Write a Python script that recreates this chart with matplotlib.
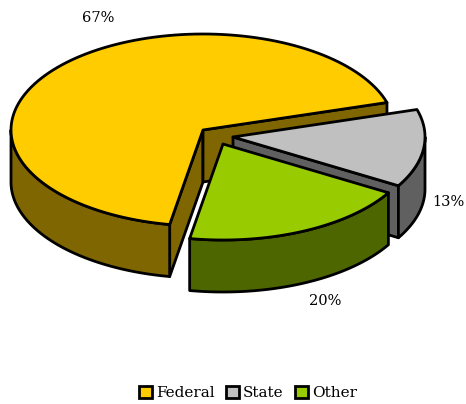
import matplotlib
matplotlib.use('Agg')
import matplotlib.pyplot as plt
from matplotlib.patches import Patch, Polygon
import numpy as np

labels = ['Federal', 'State', 'Other']
pct_labels = ['67%', '13%', '20%']
# share of the ellipse each slice takes up in the picture, in percent
shares = [67.6, 13.1, 19.3]
top_colors = ['#FFCC00', '#C0C0C0', '#99CC00']
side_colors = ['#806600', '#606060', '#4D6600']

# pie centres after the slices are pulled apart, in pixels
centers = [(203, 130), (233, 137), (223, 144)]
label_pos = [(98, 18), (448, 202), (325, 301)]

RX, RY, DEPTH = 192, 96, 52
START = 260
LW = 2.0
SERIF = ['DejaVu Serif']

fig = plt.figure(figsize=(4.66, 4.04), dpi=100)
ax = fig.add_axes([0, 0, 1, 1])
ax.set_xlim(0, 466)
ax.set_ylim(404, 0)
ax.axis('off')


def rim(cx, cy, a1, a2, dy=0):
    # points on the ellipse, angles in degrees counter clockwise
    t = np.radians(np.linspace(a1, a2, 120))
    return np.column_stack([cx + RX * np.cos(t), cy - RY * np.sin(t) + dy])


def add_poly(pts, color, z):
    ax.add_patch(Polygon(pts, closed=True, facecolor=color, edgecolor='black',
                         linewidth=LW, joinstyle='round', zorder=z))


def add_cut(cx, cy, a, color, z):
    t = np.radians(a)
    x, y = cx + RX * np.cos(t), cy - RY * np.sin(t)
    add_poly([(cx, cy), (x, y), (x, y + DEPTH), (cx, cy + DEPTH)], color, z)


angle = START
for i, share in enumerate(shares):
    a1 = angle
    a2 = angle - share * 3.6
    angle = a2
    cx, cy = centers[i]
    z = i * 3 + 1

    # cut faces, only those turned towards the viewer
    if np.cos(np.radians(a1)) < 0:
        add_cut(cx, cy, a1, side_colors[i], z)
    if np.cos(np.radians(a2)) > 0:
        add_cut(cx, cy, a2, side_colors[i], z)

    # outer wall, only the front half of the ellipse shows
    for k in (-360, 0):
        f1 = max(a2, 180 + k)
        f2 = min(a1, 360 + k)
        if f1 < f2:
            add_poly(np.vstack([rim(cx, cy, f1, f2), rim(cx, cy, f2, f1, DEPTH)]),
                     side_colors[i], z + 1)

    add_poly(np.vstack([[(cx, cy)], rim(cx, cy, a1, a2)]), top_colors[i], z + 2)

    x, y = label_pos[i]
    ax.text(x, y, pct_labels[i], ha='center', va='center', fontsize=10.5,
            family=SERIF, color='black', zorder=20)

handles = [Patch(facecolor=c, edgecolor='black', linewidth=2.0) for c in top_colors]
ax.legend(handles, labels, loc='center', bbox_to_anchor=(248 / 466, 1 - 393 / 404), ncol=3,
          frameon=False, prop={'family': SERIF, 'size': 11}, handlelength=0.85,
          handleheight=0.85, handletextpad=0.25, columnspacing=0.75, borderpad=0)

fig.savefig('out.png', dpi=100)
